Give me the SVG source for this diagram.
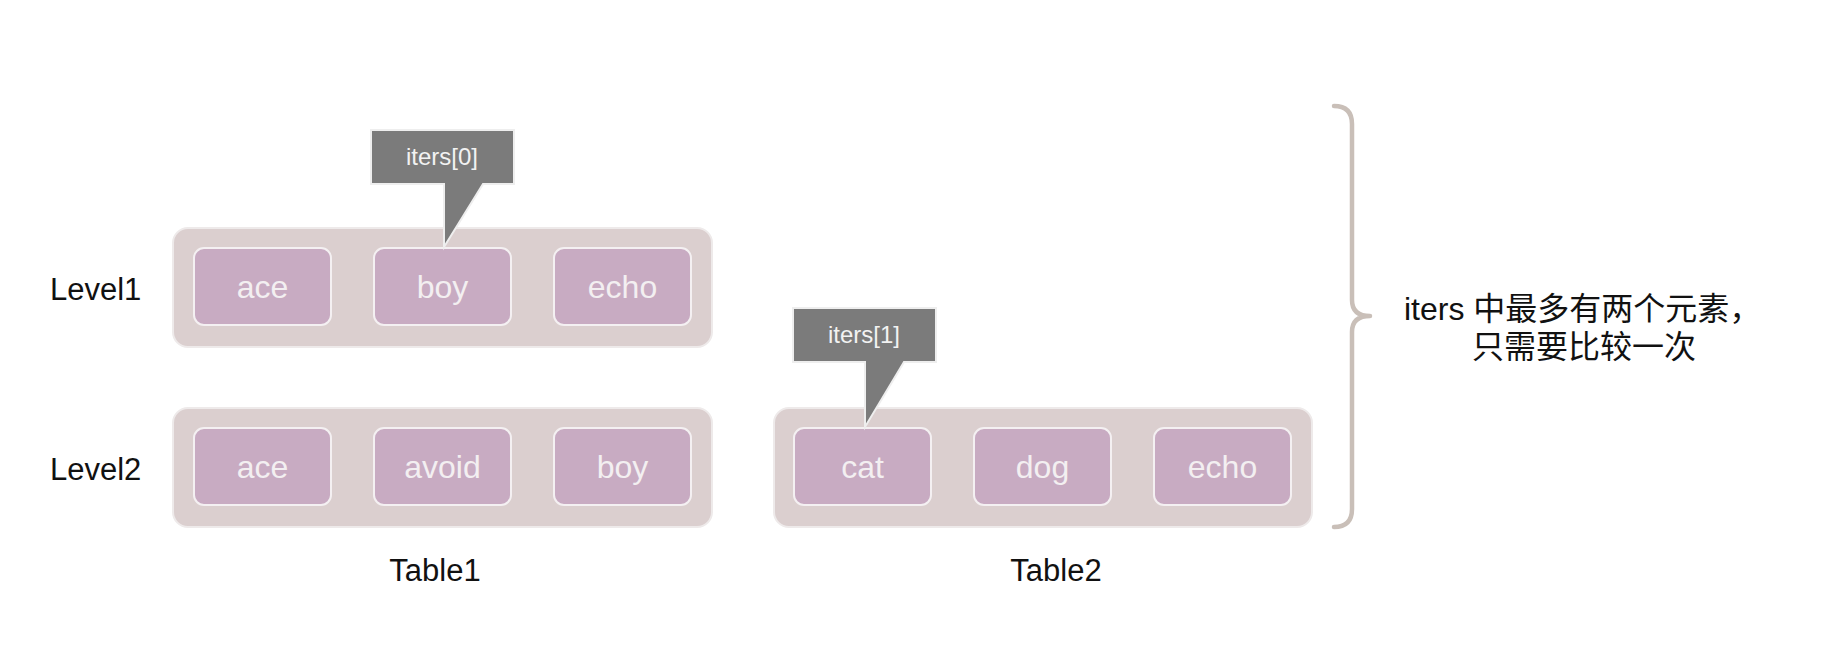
<svg xmlns="http://www.w3.org/2000/svg" width="1830" height="666" viewBox="0 0 1830 666">
<style>
.bg{fill:#ffffff}
.cont{fill:#dbcfcf;stroke:#eeeaea;stroke-width:2}
.box{fill:#c8abc2;stroke:#f4f0f2;stroke-width:2}
.btxt{font-family:"Liberation Sans",Arial,sans-serif;font-size:32px;fill:#f3eff1;text-anchor:middle}
.call{fill:#7b7b7b;stroke:#eeeeee;stroke-width:2;stroke-linejoin:miter}
.ctxt{font-family:"Liberation Sans",Arial,sans-serif;font-size:24px;fill:#f2f2f2;text-anchor:middle}
.lbl{font-family:"Liberation Sans",Arial,sans-serif;font-size:31px;fill:#111111}
.note{font-family:"Liberation Sans","Noto Sans CJK SC",sans-serif;font-size:32px;fill:#111111}
.brace{fill:none;stroke:#c9bfb8;stroke-width:4.5;stroke-linecap:round;stroke-linejoin:round}
</style>
<rect class="bg" x="0" y="0" width="1830" height="666"/>

<g id="level1-label"><text class="lbl" x="50" y="300">Level1</text></g>
<g id="level2-label"><text class="lbl" x="50" y="480">Level2</text></g>

<g id="table1-level1">
<rect class="cont" x="173" y="228" width="539" height="119" rx="15"/>
</g>
<g id="t1l1-ace"><rect class="box" x="194" y="248" width="137" height="77" rx="10"/><text class="btxt" x="262.5" y="298">ace</text></g>
<g id="t1l1-boy"><rect class="box" x="374" y="248" width="137" height="77" rx="10"/><text class="btxt" x="442.5" y="298">boy</text></g>
<g id="t1l1-echo"><rect class="box" x="554" y="248" width="137" height="77" rx="10"/><text class="btxt" x="622.5" y="298">echo</text></g>

<g id="table1-level2">
<rect class="cont" x="173" y="408" width="539" height="119" rx="15"/>
</g>
<g id="t1l2-ace"><rect class="box" x="194" y="428" width="137" height="77" rx="10"/><text class="btxt" x="262.5" y="478">ace</text></g>
<g id="t1l2-avoid"><rect class="box" x="374" y="428" width="137" height="77" rx="10"/><text class="btxt" x="442.5" y="478">avoid</text></g>
<g id="t1l2-boy"><rect class="box" x="554" y="428" width="137" height="77" rx="10"/><text class="btxt" x="622.5" y="478">boy</text></g>

<g id="table2-level2">
<rect class="cont" x="774" y="408" width="538" height="119" rx="15"/>
</g>
<g id="t2l2-cat"><rect class="box" x="794" y="428" width="137" height="77" rx="10"/><text class="btxt" x="862.5" y="478">cat</text></g>
<g id="t2l2-dog"><rect class="box" x="974" y="428" width="137" height="77" rx="10"/><text class="btxt" x="1042.5" y="478">dog</text></g>
<g id="t2l2-echo"><rect class="box" x="1154" y="428" width="137" height="77" rx="10"/><text class="btxt" x="1222.5" y="478">echo</text></g>

<g id="callout-iters0">
<path class="call" d="M371,130 H514 V184 H483 L444,247 V184 H371 Z"/>
<text class="ctxt" x="442" y="165">iters[0]</text>
</g>
<g id="callout-iters1">
<path class="call" d="M793,308 H936 V362 H904 L865,427 V362 H793 Z"/>
<text class="ctxt" x="864" y="343">iters[1]</text>
</g>

<g id="table1-label"><text class="lbl" x="435" y="581" text-anchor="middle">Table1</text></g>
<g id="table2-label"><text class="lbl" x="1056" y="581" text-anchor="middle">Table2</text></g>

<g id="brace">
<path class="brace" d="M1334,106 Q1352,106 1352,124 L1352,300 Q1352,316 1370,316 Q1352,316 1352,332 L1352,509 Q1352,527 1334,527"/>
</g>

<g id="note">
<text class="note" x="1404" y="320">iters 中最多有两个元素，</text>
<text class="note" x="1472" y="358">只需要比较一次</text>
</g>

<g id="connectors"/>
</svg>
